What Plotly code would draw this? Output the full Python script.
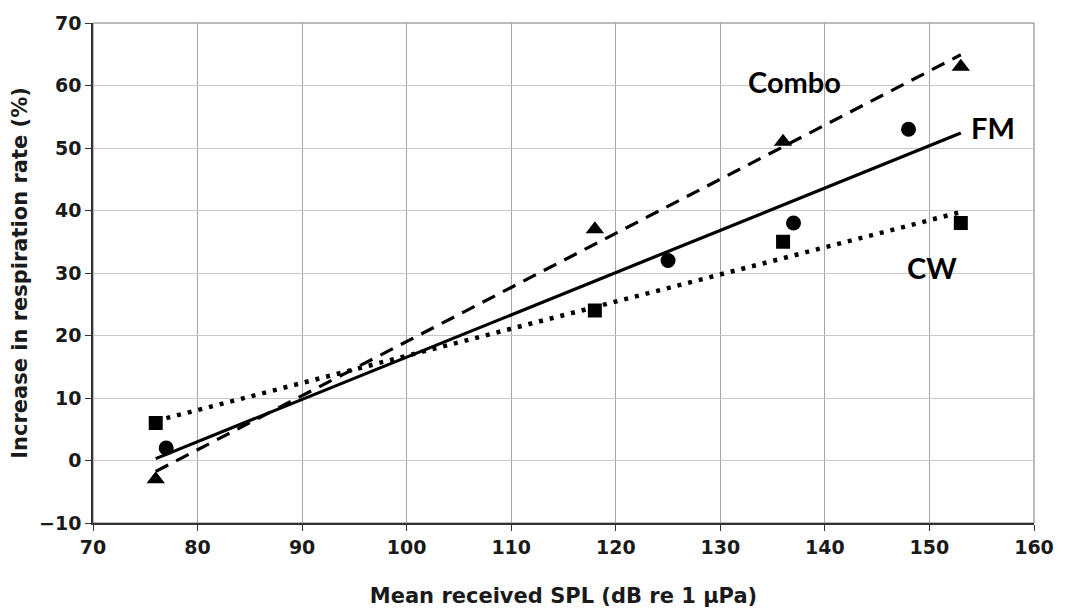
import numpy as np
import plotly.graph_objects as go

# Data
cw_x = [76, 118, 136, 153]
cw_y = [6, 24, 35, 38]
fm_x = [77, 125, 137, 148]
fm_y = [2, 32, 38, 53]
combo_x = [76, 118, 136, 153]
combo_y = [-3, 37, 51, 63]
trend_x = [76, 153]

x_ticks = [70, 80, 90, 100, 110, 120, 130, 140, 150, 160]
y_ticks = [-10, 0, 10, 20, 30, 40, 50, 60, 70]

labels = ["Combo", "FM", "CW"]
label_x = [137.1, 156.1, 150.2]
label_y = [60.6, 53.3, 30.9]


def trend(xs, ys):
    m, b = np.polyfit(xs, ys, 1)
    return [m * x + b for x in trend_x]


fig = go.Figure()

fig.add_trace(go.Scatter(x=trend_x, y=trend(cw_x, cw_y), mode="lines",
                         line=dict(color="black", width=4.5, dash="4px,7px"),
                         showlegend=False, hoverinfo="skip"))
fig.add_trace(go.Scatter(x=trend_x, y=trend(fm_x, fm_y), mode="lines",
                         line=dict(color="black", width=3.2),
                         showlegend=False, hoverinfo="skip"))
fig.add_trace(go.Scatter(x=trend_x, y=trend(combo_x, combo_y), mode="lines",
                         line=dict(color="black", width=3.2, dash="14px,9px"),
                         showlegend=False, hoverinfo="skip"))

fig.add_trace(go.Scatter(x=cw_x, y=cw_y, mode="markers", name="CW",
                         marker=dict(symbol="square", size=14, color="black"),
                         showlegend=False))
fig.add_trace(go.Scatter(x=fm_x, y=fm_y, mode="markers", name="FM",
                         marker=dict(symbol="circle", size=15, color="black"),
                         showlegend=False))
fig.add_trace(go.Scatter(x=combo_x, y=combo_y, mode="markers", name="Combo",
                         marker=dict(symbol="triangle-up", size=16, color="black"),
                         showlegend=False))

for t, x, y in zip(labels, label_x, label_y):
    fig.add_annotation(x=x, y=y, text=t, showarrow=False,
                       font=dict(family="Lato", size=29, color="black", weight="bold"))

tick_font = dict(family="DejaVu Sans", size=19, color="#1a1a1a", weight="bold")
title_font = dict(family="DejaVu Sans", size=21, color="#1a1a1a", weight="bold")

fig.update_xaxes(range=[70, 160], tickvals=x_ticks, showgrid=True, gridcolor="#a6a6a6",
                 gridwidth=1, showline=True, linecolor="#333333", linewidth=1.5,
                 mirror=False, ticks="outside", ticklen=6, tickcolor="#333333",
                 tickfont=tick_font, zeroline=False,
                 title=dict(text="Mean received SPL (dB re 1 µPa)", font=title_font, standoff=32))
fig.update_yaxes(range=[-10, 70], tickvals=y_ticks, showgrid=True, gridcolor="#c8c8c8",
                 gridwidth=1, showline=True, linecolor="#333333", linewidth=1.5,
                 ticks="outside", ticklen=6, tickcolor="#333333",
                 tickfont=tick_font, zeroline=False,
                 title=dict(text="Increase in respiration rate (%)", font=title_font, standoff=6))

# top/right frame
fig.add_shape(type="rect", xref="paper", yref="paper", x0=0, y0=0, x1=1, y1=1,
              line=dict(color="#777777", width=1), layer="below")

fig.update_layout(width=1066, height=616, margin=dict(l=93, r=28, t=18, b=91),
                  plot_bgcolor="white", paper_bgcolor="white")

fig.write_html("out.html")
